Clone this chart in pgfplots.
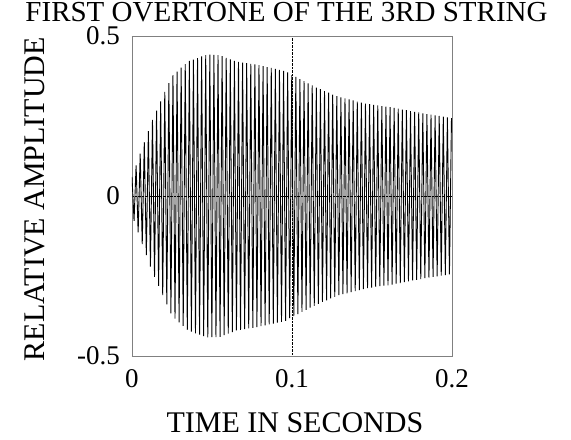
\documentclass[border=0pt]{standalone}
\usepackage{pgfplots}
\pgfplotsset{compat=1.18}
\usepackage{fontspec}
\setmainfont{Liberation Serif}
\begin{document}
\begin{tikzpicture}
\begin{axis}[
  scale only axis, width=320bp, height=320bp,
  at={(0,0)}, anchor=south west,
  xmin=0, xmax=0.2, ymin=-0.5, ymax=0.5,
  xtick={0,0.1,0.2}, xticklabels={0,0.1,0.2},
  ytick={-0.5,0,0.5}, yticklabels={-0.5,0,0.5},
  major tick length=0pt,
  axis line style={draw=black!50, line width=0.8bp},
  grid=major, grid style={densely dotted, black, line width=0.6bp},
  tick label style={font=\fontsize{27bp}{30bp}\selectfont, inner sep=0pt},
  yticklabel style={anchor=east}, yticklabel shift=12bp,
  xticklabel style={anchor=north}, xticklabel shift=13bp,
  title={FIRST OVERTONE OF THE 3RD STRING},
  title style={font=\fontsize{29bp}{34bp}\selectfont, inner sep=0pt, at={(axis description cs:0.483,1.028)}, anchor=base},
  xlabel={TIME IN SECONDS},
  xlabel style={font=\fontsize{30bp}{36bp}\selectfont, inner sep=0pt, at={(axis description cs:0.509,-0.24)}, anchor=base},
  ylabel={RELATIVE AMPLITUDE},
  ylabel style={font=\fontsize{30bp}{36bp}\selectfont, inner sep=0pt, at={(axis description cs:-0.272,0.49)}, anchor=base, rotate=0},
]
\addplot[black, line width=0.9bp, mark=none] table {
0 0.060
0.00128 -0.078
0.00256 0.096
0.00384 -0.114
0.00512 0.132
0.0064 -0.150
0.00768 0.168
0.00896 -0.185
0.01024 0.203
0.01152 -0.221
0.0128 0.238
0.01408 -0.253
0.01536 0.267
0.01664 -0.281
0.01792 0.296
0.0192 -0.310
0.02048 0.325
0.02176 -0.339
0.02304 0.353
0.02432 -0.367
0.0256 0.378
0.02688 -0.383
0.02816 0.389
0.02944 -0.395
0.03072 0.401
0.032 -0.406
0.03328 0.412
0.03456 -0.418
0.03584 0.422
0.03712 -0.424
0.0384 0.426
0.03968 -0.429
0.04096 0.431
0.04224 -0.433
0.04352 0.436
0.0448 -0.438
0.04608 0.440
0.04736 -0.442
0.04864 0.442
0.04992 -0.441
0.0512 0.441
0.05248 -0.441
0.05376 0.440
0.05504 -0.440
0.05632 0.437
0.0576 -0.435
0.05888 0.432
0.06016 -0.430
0.06144 0.427
0.06272 -0.425
0.064 0.422
0.06528 -0.420
0.06656 0.419
0.06784 -0.418
0.06912 0.417
0.0704 -0.416
0.07168 0.415
0.07296 -0.414
0.07424 0.413
0.07552 -0.412
0.0768 0.411
0.07808 -0.410
0.07936 0.409
0.08064 -0.407
0.08192 0.406
0.0832 -0.404
0.08448 0.403
0.08576 -0.401
0.08704 0.400
0.08832 -0.399
0.0896 0.397
0.09088 -0.396
0.09216 0.394
0.09344 -0.393
0.09472 0.391
0.096 -0.390
0.09728 0.386
0.09856 -0.382
0.09984 0.378
0.10112 -0.375
0.1024 0.372
0.10368 -0.369
0.10496 0.365
0.10624 -0.362
0.10752 0.359
0.1088 -0.356
0.11008 0.352
0.11136 -0.349
0.11264 0.346
0.11392 -0.343
0.1152 0.339
0.11648 -0.337
0.11776 0.334
0.11904 -0.331
0.12032 0.328
0.1216 -0.326
0.12288 0.323
0.12416 -0.320
0.12544 0.317
0.12672 -0.315
0.128 0.312
0.12928 -0.310
0.13056 0.308
0.13184 -0.307
0.13312 0.305
0.1344 -0.304
0.13568 0.302
0.13696 -0.300
0.13824 0.299
0.13952 -0.297
0.1408 0.295
0.14208 -0.294
0.14336 0.292
0.14464 -0.291
0.14592 0.289
0.1472 -0.288
0.14848 0.287
0.14976 -0.286
0.15104 0.285
0.15232 -0.284
0.1536 0.283
0.15488 -0.282
0.15616 0.281
0.15744 -0.280
0.15872 0.279
0.16 -0.279
0.16128 0.278
0.16256 -0.277
0.16384 0.275
0.16512 -0.274
0.1664 0.273
0.16768 -0.272
0.16896 0.270
0.17024 -0.269
0.17152 0.268
0.1728 -0.267
0.17408 0.265
0.17536 -0.264
0.17664 0.263
0.17792 -0.262
0.1792 0.261
0.18048 -0.260
0.18176 0.258
0.18304 -0.257
0.18432 0.256
0.1856 -0.255
0.18688 0.254
0.18816 -0.253
0.18944 0.252
0.19072 -0.251
0.192 0.250
0.19328 -0.249
0.19456 0.248
0.19584 -0.247
0.19712 0.246
0.1984 -0.245
0.19968 0.243
};
\end{axis}
\pgfresetboundingbox
\useasboundingbox (-132bp,-84bp) rectangle (439bp,356bp);
\end{tikzpicture}
\end{document}
